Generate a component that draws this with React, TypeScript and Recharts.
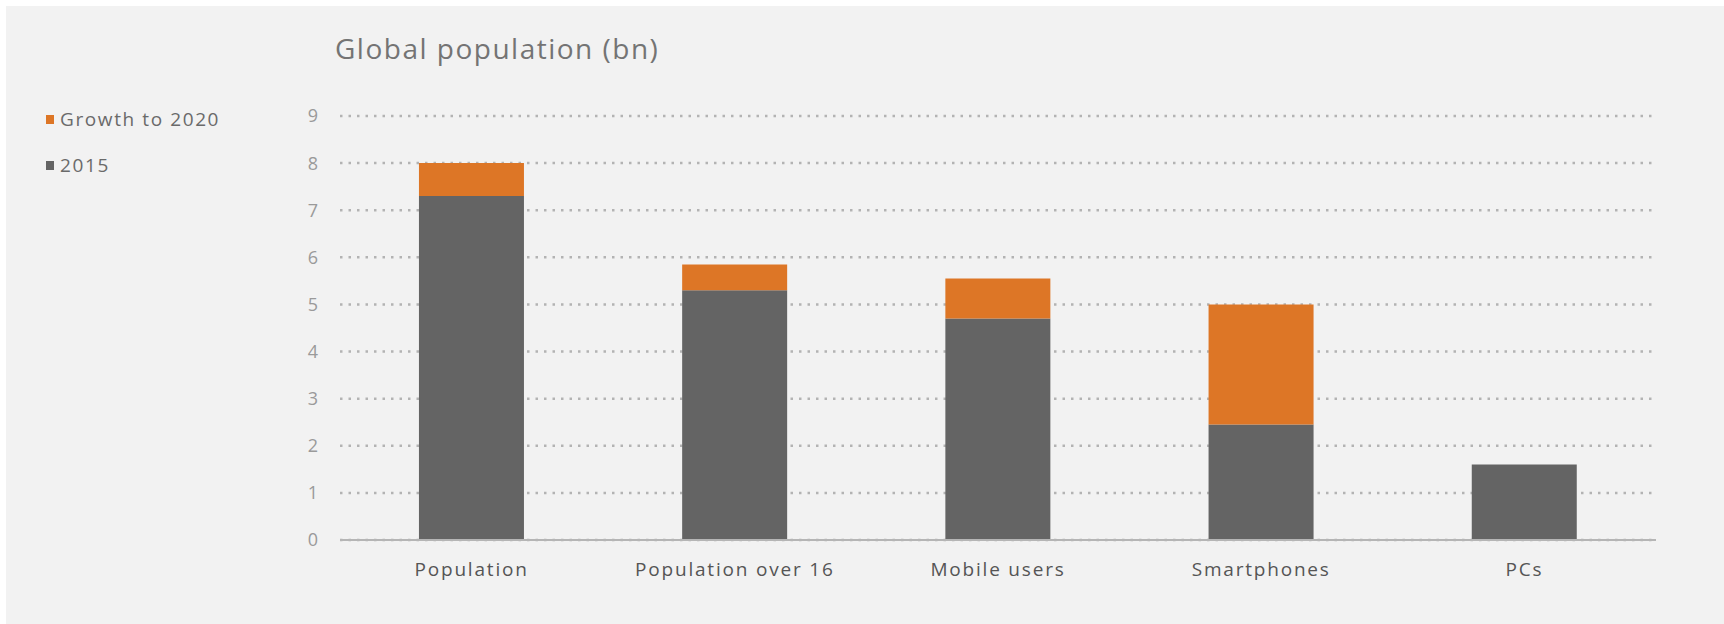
import { BarChart, Bar, XAxis, YAxis, CartesianGrid, Legend } from 'recharts';

const categories = ['Population', 'Population over 16', 'Mobile users', 'Smartphones', 'PCs'];
const base2015 = [7.3, 5.3, 4.7, 2.45, 1.6];
const growthTo2020 = [0.7, 0.55, 0.85, 2.55, 0];
const yTicks = [0, 1, 2, 3, 4, 5, 6, 7, 8, 9];

const data = categories.map((name, i) => ({
  name,
  base: base2015[i],
  growth: growthTo2020[i],
}));

const FONT = '"Open Sans", Lato, sans-serif';
const ORANGE = '#dd7626';
const DARK = '#646464';

// legend lists the growth series first, like the stacking order top-down
const renderLegend = (props: any) => {
  const items = [...(props.payload || [])].reverse();
  return (
    <div style={{ fontFamily: FONT }}>
      {items.map((entry: any) => (
        <div
          key={entry.value}
          style={{ display: 'flex', alignItems: 'center', height: 46, color: '#6a6a6a', fontSize: 19, letterSpacing: 1.6 }}
        >
          <span style={{ display: 'inline-block', width: 8, height: 9, background: entry.color, marginRight: 6 }} />
          {entry.value}
        </div>
      ))}
    </div>
  );
};

export default function App() {
  return (
    <div style={{ position: 'fixed', left: 0, top: 0, width: 1724, height: 624, background: '#fff', overflow: 'hidden' }}>
      <div style={{ position: 'absolute', left: 6, top: 6, width: 1730, height: 630, background: '#f2f2f2' }} />
      <div
        style={{
          position: 'absolute',
          left: 335,
          top: 29,
          fontFamily: FONT,
          fontSize: 28,
          letterSpacing: 1.5,
          color: '#747474',
        }}
      >
        Global population (bn)
      </div>
      <div style={{ position: 'absolute', left: 0, top: 0 }}>
        <BarChart
          width={1724}
          height={624}
          data={data}
          margin={{ top: 116, right: 68, bottom: 0, left: 0 }}
          barCategoryGap="30%"
        >
          <CartesianGrid vertical={false} stroke="#b3b3b3" strokeWidth={2.5} strokeDasharray="2.5 6" />
          <XAxis
            dataKey="name"
            height={84}
            tickLine={false}
            tickSize={0}
            tickMargin={23}
            axisLine={{ stroke: '#b5b5b5', strokeWidth: 2 }}
            tick={{ fill: '#555', fontSize: 19, fontFamily: FONT, letterSpacing: 1.8 }}
            interval={0}
          />
          <YAxis
            width={340}
            domain={[0, 9]}
            ticks={yTicks}
            interval={0}
            axisLine={false}
            tickLine={false}
            tickSize={0}
            tickMargin={22}
            tick={{ fill: '#9a9a9a', fontSize: 18, fontFamily: FONT }}
          />
          <Legend
            layout="vertical"
            align="center"
            verticalAlign="middle"
            content={renderLegend}
            wrapperStyle={{ left: 46, top: 96, width: 260 }}
          />
          <Bar dataKey="base" name="2015" stackId="a" fill={DARK} isAnimationActive={false} />
          <Bar dataKey="growth" name="Growth to 2020" stackId="a" fill={ORANGE} isAnimationActive={false} />
        </BarChart>
      </div>
    </div>
  );
}
